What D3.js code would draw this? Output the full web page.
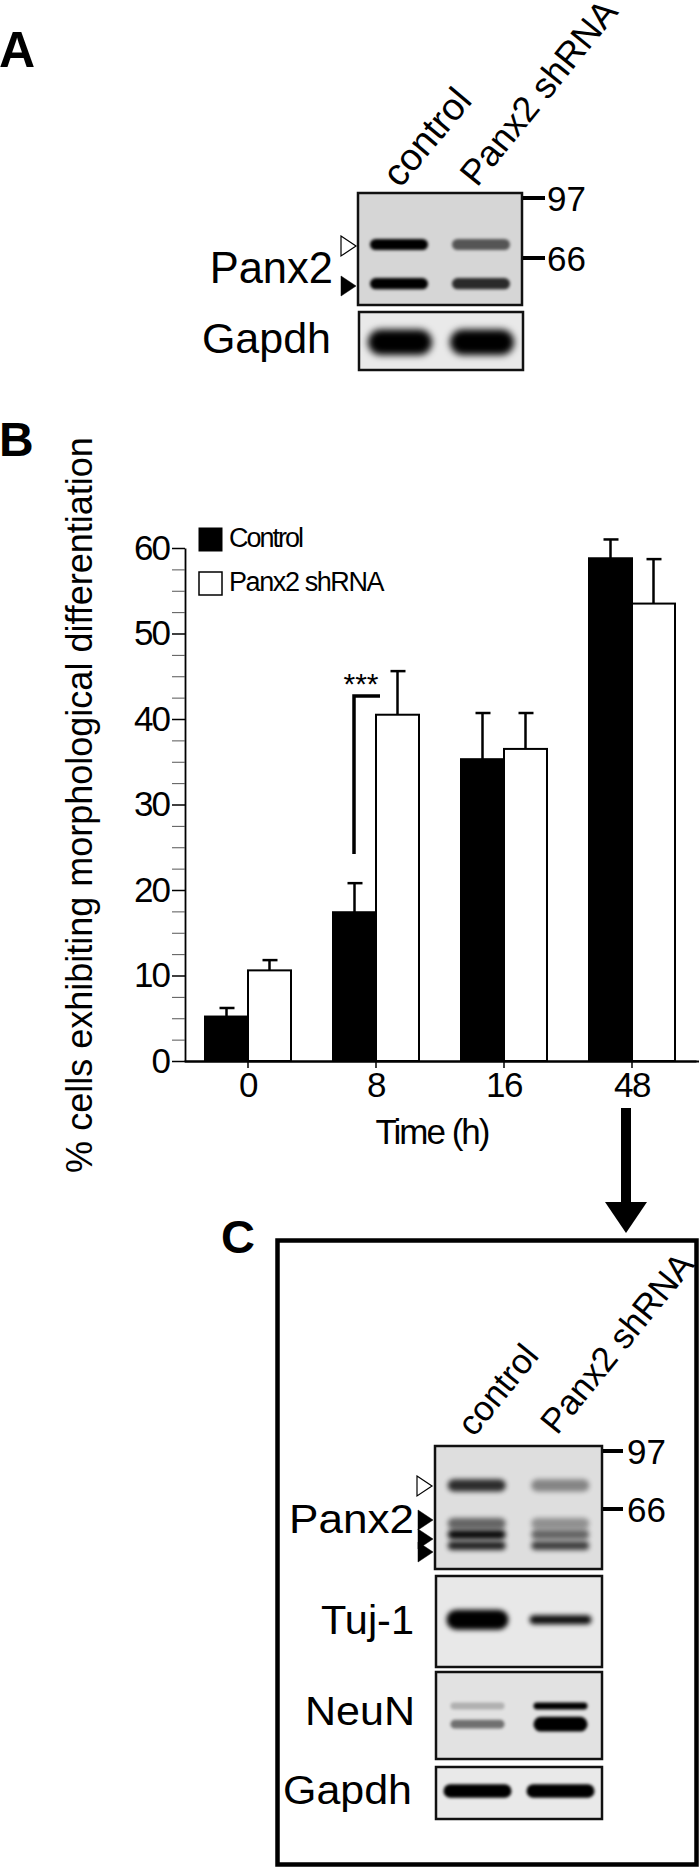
<!DOCTYPE html>
<html>
<head>
<meta charset="utf-8">
<script src="https://d3js.org/d3.v7.min.js"></script>
<style>
  html, body { margin: 0; padding: 0; background: #fff; }
  svg { display: block; }
  text { font-family: "Liberation Sans", Arial, sans-serif; fill: #000; }
</style>
</head>
<body>
<div id="graph"></div>
<script>
// bar chart values
const times = ['0', '8', '16', '48'];
const seriesNames = ['Control', 'Panx2 shRNA'];
const controlMean = [5.2, 17.4, 35.3, 58.8];
const controlTop = [6.2, 20.8, 40.7, 61];
const shrnaMean = [10.6, 40.5, 36.5, 53.5];
const shrnaTop = [11.8, 45.6, 40.7, 58.7];
const yMajor = [0, 10, 20, 30, 40, 50, 60];
const yMinor = [2.5, 5, 7.5, 12.5, 15, 17.5, 22.5, 25, 27.5, 32.5, 35, 37.5, 42.5, 45, 47.5, 52.5, 55, 57.5];
const sigFrom = 24.2;
const sigTo = 42.7;

// blots: percent down the blot, percent thickness, control and shRNA band strength
const lanes = ['control', 'Panx2 shRNA'];
const a_panx2 = [[46, 10, 1, 0.6], [81, 10, 1, 0.8]];
const a_gapdh = [[52, 44, 1, 1]];
const c_panx2 = [[32, 10, 0.8, 0.4], [63, 9, 0.55, 0.35], [72, 8, 0.95, 0.55], [81, 7, 0.85, 0.72]];
const c_tuj = [[48, 22, 1, 0], [48, 10, 0, 0.95]];
const c_neun = [[39, 8, 0.22, 1], [60, 10, 0.5, 0], [60, 17, 0, 1]];
const c_gapdh = [[46, 26, 1, 1]];

const svg = d3.select('#graph').append('svg').attr('width', 700).attr('height', 1868);
const defs = svg.append('defs');
[1.5, 2.5, 3.5].forEach((s, i) => {
  defs.append('filter').attr('id', 'blur' + i)
    .attr('x', '-20%').attr('y', '-80%').attr('width', '140%').attr('height', '260%')
    .append('feGaussianBlur').attr('stdDeviation', s);
});

function label(x, y, txt, size, opts) {
  opts = opts || {};
  return svg.append('text')
    .attr('x', x).attr('y', y)
    .attr('font-size', size)
    .attr('font-weight', opts.bold ? 'bold' : null)
    .attr('text-anchor', opts.anchor || 'start')
    .attr('letter-spacing', opts.spacing || null)
    .attr('textLength', opts.length || null)
    .attr('lengthAdjust', opts.length ? 'spacingAndGlyphs' : null)
    .attr('transform', opts.rotate ? 'rotate(' + opts.rotate + ' ' + x + ' ' + y + ')' : null)
    .text(txt);
}

function blot(x0, x1, y0, y1, rows, bg, laneWidth, blurIdx) {
  const g = svg.append('g');
  const xLane = d3.scalePoint().domain(lanes).range([x0, x1]).padding(0.5);
  const yPos = d3.scaleLinear().domain([0, 100]).range([y0, y1]);
  g.append('rect').attr('x', x0).attr('y', y0)
    .attr('width', x1 - x0).attr('height', y1 - y0).attr('fill', bg);
  rows.forEach((r) => {
    lanes.forEach((lane, i) => {
      const strength = r[2 + i];
      if (!strength) return;
      const h = yPos(r[1]) - yPos(0);
      g.append('rect')
        .attr('x', xLane(lane) - laneWidth / 2)
        .attr('y', yPos(r[0]) - h / 2)
        .attr('width', laneWidth)
        .attr('height', h)
        .attr('rx', h / 2)
        .attr('fill', '#000')
        .attr('opacity', strength)
        .attr('filter', 'url(#blur' + blurIdx + ')');
    });
  });
  g.append('rect').attr('x', x0).attr('y', y0)
    .attr('width', x1 - x0).attr('height', y1 - y0)
    .attr('fill', 'none').attr('stroke', '#111').attr('stroke-width', 2.5);
}

function marker(x, y, open) {
  const tri = d3.line()([[x, y - 10], [x + 15, y], [x, y + 10]]) + 'Z';
  svg.append('path').attr('d', tri)
    .attr('fill', open ? '#fff' : '#000')
    .attr('stroke', '#000').attr('stroke-width', open ? 1.2 : 0.5);
}

function sizeTick(x0, x1, y, txt, tx) {
  svg.append('line').attr('x1', x0).attr('x2', x1).attr('y1', y).attr('y2', y)
    .attr('stroke', '#000').attr('stroke-width', 4);
  label(tx, y + 13, txt, 35);
}

// panel A
label(-1, 67, 'A', 50, { bold: true });
label(400, 189, lanes[0], 38, { rotate: -50 });
label(477, 188, lanes[1], 36, { rotate: -51 });
blot(358, 522, 193, 305, a_panx2, '#d6d6d6', 58, 0);
blot(359, 523, 312, 370, a_gapdh, '#e9e9e9', 64, 2);
sizeTick(523, 545, 198, '97', 547);
sizeTick(523, 545, 258, '66', 547);
label(333, 283, 'Panx2', 43.5, { anchor: 'end' });
label(331, 353, 'Gapdh', 43, { anchor: 'end' });
marker(341, 246, true);
marker(341, 286, false);

// panel B
label(-1, 456, 'B', 48, { bold: true });

const xScale = d3.scaleBand().domain(times).range([184, 696]);
const yScale = d3.scaleLinear().domain([0, 60]).range([1061, 548]);
const barW = 43;

const barData = times.map((t, i) => ({
  t: t,
  vals: [
    { name: seriesNames[0], mean: controlMean[i], top: controlTop[i], fill: '#000', dx: -barW },
    { name: seriesNames[1], mean: shrnaMean[i], top: shrnaTop[i], fill: '#fff', dx: 0 }
  ]
}));

const groups = svg.append('g').selectAll('g').data(barData).join('g')
  .attr('transform', (d) => 'translate(' + (xScale(d.t) + xScale.bandwidth() / 2) + ',0)');

groups.selectAll('line.stem').data((d) => d.vals).join('line')
  .attr('class', 'stem')
  .attr('x1', (d) => d.dx + barW / 2).attr('x2', (d) => d.dx + barW / 2)
  .attr('y1', (d) => yScale(d.mean)).attr('y2', (d) => yScale(d.top))
  .attr('stroke', '#000').attr('stroke-width', 2.5);

groups.selectAll('line.cap').data((d) => d.vals).join('line')
  .attr('class', 'cap')
  .attr('x1', (d) => d.dx + barW / 2 - 7).attr('x2', (d) => d.dx + barW / 2 + 8)
  .attr('y1', (d) => yScale(d.top)).attr('y2', (d) => yScale(d.top))
  .attr('stroke', '#000').attr('stroke-width', 2.5);

groups.selectAll('rect').data((d) => d.vals).join('rect')
  .attr('x', (d) => d.dx)
  .attr('y', (d) => yScale(d.mean))
  .attr('width', barW)
  .attr('height', (d) => yScale(0) - yScale(d.mean))
  .attr('fill', (d) => d.fill)
  .attr('stroke', '#000').attr('stroke-width', 2);

const axisLeft = svg.append('g').attr('transform', 'translate(185,0)')
  .call(d3.axisLeft(yScale).tickValues(yMajor).tickSize(13).tickPadding(3).tickSizeOuter(0));
axisLeft.selectAll('text').attr('font-size', 35).attr('letter-spacing', -2).attr('font-family', null);
axisLeft.selectAll('line').attr('stroke', '#000').attr('stroke-width', 1.5);
axisLeft.select('.domain').attr('stroke', '#000').attr('stroke-width', 1.8);

const axisMinor = svg.append('g').attr('transform', 'translate(185,0)')
  .call(d3.axisLeft(yScale).tickValues(yMinor).tickSize(13).tickFormat('').tickSizeOuter(0));
axisMinor.select('.domain').remove();
axisMinor.selectAll('line').attr('stroke', '#555').attr('stroke-width', 1);

const axisBottom = svg.append('g').attr('transform', 'translate(0,1061)')
  .call(d3.axisBottom(xScale).tickSize(7).tickPadding(4).tickSizeOuter(0));
axisBottom.selectAll('text').attr('font-size', 35).attr('letter-spacing', -1.5).attr('font-family', null);
axisBottom.selectAll('line').attr('stroke', '#000').attr('stroke-width', 1.5);
axisBottom.select('.domain').attr('stroke', '#000').attr('stroke-width', 1.8);
// the drawn axis line runs on a little past the last band
svg.append('line').attr('x1', 185).attr('x2', 699).attr('y1', 1061.5).attr('y2', 1061.5)
  .attr('stroke', '#000').attr('stroke-width', 1.8);

label(432, 1144, 'Time (h)', 35, { anchor: 'middle', spacing: -2 });
label(92, 805, '% cells exhibiting morphological differentiation', 36, { anchor: 'middle', rotate: -90 });

// legend
svg.append('rect').attr('x', 199).attr('y', 528).attr('width', 23).attr('height', 23).attr('fill', '#000').attr('stroke', '#000');
svg.append('rect').attr('x', 199).attr('y', 572).attr('width', 23).attr('height', 23).attr('fill', '#fff').attr('stroke', '#000').attr('stroke-width', 1.5);
label(229, 547, seriesNames[0], 27, { spacing: -2 });
label(229, 591, seriesNames[1], 27, { spacing: -1.4 });

// significance bracket
const sigX = xScale('8') + xScale.bandwidth() / 2;
svg.append('path')
  .attr('d', d3.line()([[sigX - 22, yScale(sigFrom)], [sigX - 22, yScale(sigTo)], [sigX + 4, yScale(sigTo)]]))
  .attr('fill', 'none').attr('stroke', '#000').attr('stroke-width', 3.5);
label(361, 694, '***', 30, { anchor: 'middle' });

// arrow from the 48 h group down to panel C
const arrowX = xScale('48') + xScale.bandwidth() / 2 - 6;
svg.append('rect').attr('x', arrowX - 5).attr('y', 1108).attr('width', 10).attr('height', 100).attr('fill', '#000');
svg.append('path').attr('d', d3.line()([[arrowX - 21, 1202], [arrowX + 21, 1202], [arrowX, 1233]]) + 'Z').attr('fill', '#000');

// panel C
label(221, 1253, 'C', 47, { bold: true });
svg.append('rect').attr('x', 277.5).attr('y', 1240.5).attr('width', 419).attr('height', 624)
  .attr('fill', 'none').attr('stroke', '#000').attr('stroke-width', 4.5);
label(474, 1438, lanes[0], 35, { rotate: -51 });
label(557, 1436, lanes[1], 35, { rotate: -51 });
blot(435, 602, 1446, 1569, c_panx2, '#dedede', 58, 1);
blot(436, 602, 1576, 1667, c_tuj, '#e8e8e8', 62, 1);
blot(436, 602, 1672, 1759, c_neun, '#e2e2e2', 54, 0);
blot(436, 602, 1767, 1819, c_gapdh, '#e9e9e9', 68, 0);
sizeTick(603, 623, 1451, '97', 627);
sizeTick(603, 623, 1509, '66', 627);
label(414, 1533, 'Panx2', 41, { anchor: 'end', length: 125 });
label(414, 1634, 'Tuj-1', 41, { anchor: 'end', length: 93 });
label(415, 1725, 'NeuN', 41, { anchor: 'end', length: 110 });
label(412, 1804, 'Gapdh', 41, { anchor: 'end', length: 129 });
marker(417, 1486, true);
marker(418, 1520, false);
marker(418, 1539, false);
marker(418, 1552, false);
</script>
</body>
</html>
